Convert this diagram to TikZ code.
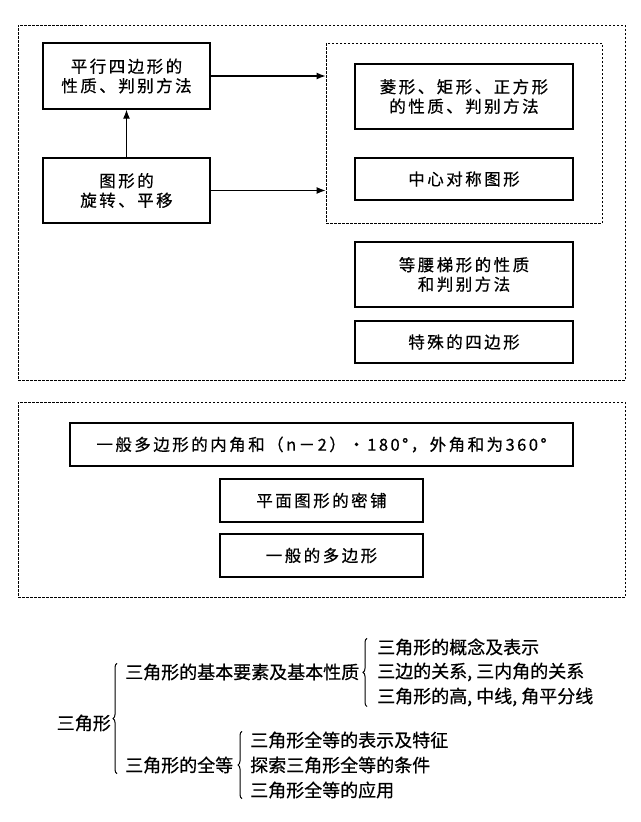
\documentclass[tikz,border=0pt]{standalone}
\usepackage{fontspec}
\usepackage{tikz}
\usetikzlibrary{arrows.meta,decorations.pathreplacing}
\newfontfamily\cjk[FakeBold=0.6]{Noto Sans CJK SC}
\newfontfamily\cjkwide[LetterSpace=15,FakeBold=0.6]{Noto Sans CJK SC}

\tikzset{
	box/.style={draw=black, line width=1.4pt, inner sep=0pt, align=center, font=\cjkwide\fontsize{16.5}{19.5}\selectfont},
	dashbox/.style={draw=black, line width=0.9pt, dash pattern=on 2.5pt off 1.5pt, inner sep=0pt},
	item/.style={inner sep=0pt, anchor=west, font=\cjk\fontsize{18}{20}\selectfont},
	link/.style={-{Latex[length=9pt,width=7pt]}, line width=1.1pt},
	curly/.style={decorate, decoration={brace, amplitude=4pt}, line width=1pt}
}

\begin{document}
\begin{tikzpicture}[x=1pt, y=-1pt]
	\useasboundingbox (0,0) rectangle (640,822);

	\node[dashbox, minimum width=607pt, minimum height=355pt] (quad) at (321.5,202.5) {};
	\node[dashbox, minimum width=276pt, minimum height=180pt] (special) at (464,133) {};
	\node[box, minimum width=167pt, minimum height=66pt] (para) at (126.5,76) {平行四边形的\\性质、判别方法};
	\node[box, minimum width=167pt, minimum height=65pt] (move) at (126.5,190.5) {图形的\\旋转、平移};
	\node[box, minimum width=218pt, minimum height=65pt] (rhomb) at (464,96.5) {菱形、矩形、正方形\\的性质、判别方法};
	\node[box, minimum width=218pt, minimum height=42pt] (sym) at (464,179) {中心对称图形};
	\node[box, minimum width=218pt, minimum height=65pt] (trap) at (464,274.5) {等腰梯形的性质\\和判别方法};
	\node[box, minimum width=218pt, minimum height=42pt] (spec) at (464,342) {特殊的四边形};
	\draw[link] (move) -- (para);
	\draw[link] (para.east) -- (para.east -| special.west);
	\draw[link] (move.east) -- (move.east -| special.west);

	\node[dashbox, minimum width=607pt, minimum height=195pt] (poly) at (321.5,499.5) {};
	\node[box, minimum width=503pt, minimum height=43pt] (angles) at (321.5,444.5) {一般多边形的内角和（n－2）·180°，外角和为360°};
	\node[box, minimum width=203pt, minimum height=43pt] (tile) at (321.5,500.5) {平面图形的密铺};
	\node[box, minimum width=203pt, minimum height=43pt] (gen) at (321.5,555.5) {一般的多边形};

	\node[item, anchor=east] (tri) at (111,723) {三角形};
	\node[item] (basic) at (125,672) {三角形的基本要素及基本性质};
	\node[item] (cong) at (125,765) {三角形的全等};
	\node[item] (b1) at (377,647) {三角形的概念及表示};
	\node[item] (b2) at (377,672) {三边的关系, 三内角的关系};
	\node[item] (b3) at (377,697) {三角形的高, 中线, 角平分线};
	\node[item] (c1) at (250,740) {三角形全等的表示及特征};
	\node[item] (c2) at (250,765) {探索三角形全等的条件};
	\node[item] (c3) at (250,790) {三角形全等的应用};
	\draw[curly] ([xshift=-8pt]cong.south west) -- ([xshift=-8pt]basic.north west);
	\draw[curly] ([xshift=-10pt]b3.south west) -- ([xshift=-10pt]b1.north west);
	\draw[curly] ([xshift=-8pt]c3.south west) -- ([xshift=-8pt]c1.north west);
\end{tikzpicture}
\end{document}
